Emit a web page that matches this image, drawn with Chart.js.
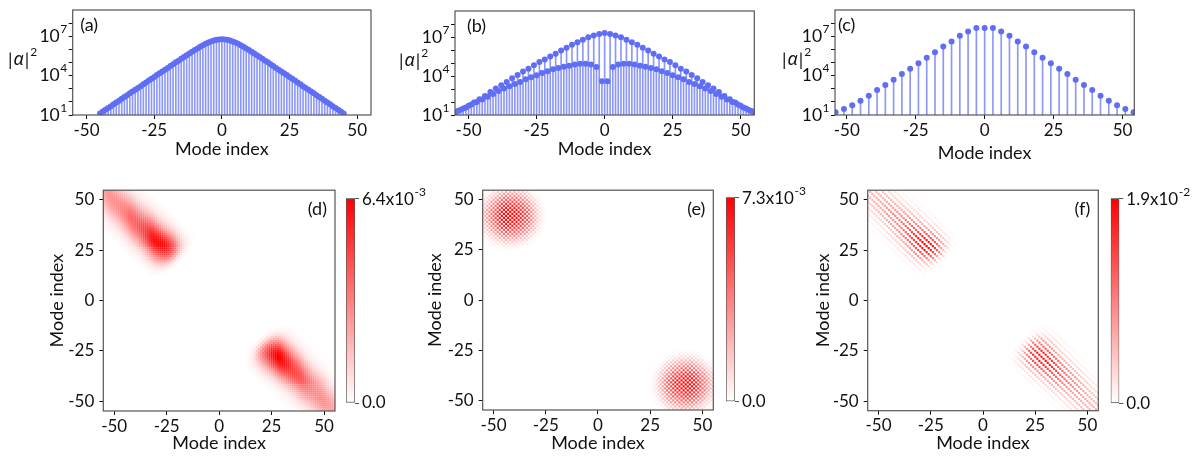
<!DOCTYPE html>
<html>
<head>
<meta charset="utf-8">
<script src="https://cdn.jsdelivr.net/npm/chart.js@4.4.1/dist/chart.umd.min.js"></script>
<style>
  html, body { margin: 0; padding: 0; background: #fff; }
  body { width: 1193px; height: 458px; position: relative; overflow: hidden; }
  canvas { position: absolute; }
</style>
</head>
<body>
<canvas id="ca"></canvas><canvas id="cb"></canvas><canvas id="cc"></canvas>
<canvas id="cd"></canvas><canvas id="ce"></canvas><canvas id="cf"></canvas>
<canvas id="cbd"></canvas><canvas id="cbe"></canvas><canvas id="cbf"></canvas>
<script>
function range(a, b, s) { const r = []; for (let v = a; v <= b; v += s) r.push(v); return r; }

// ---- tick labels ----
const xTicks = [-50, -25, 0, 25, 50];
const logTicks = [1e1, 1e2, 1e3, 1e4, 1e5, 1e6, 1e7, 1e8];
const logLabelPowers = [1, 4, 7];

// ---- (a) log10 |alpha|^2 per mode ----
const aModes = range(-45, 45, 1);
const aLog = [1.12, 1.26, 1.40, 1.53, 1.67, 1.81, 1.95, 2.09, 2.23, 2.37,
  2.51, 2.65, 2.79, 2.92, 3.06, 3.20, 3.34, 3.48, 3.62, 3.76,
  3.90, 4.04, 4.18, 4.31, 4.45, 4.59, 4.73, 4.87, 5.01, 5.14,
  5.28, 5.42, 5.55, 5.69, 5.82, 5.95, 6.07, 6.20, 6.31, 6.42,
  6.52, 6.60, 6.67, 6.73, 6.76, 6.77, 6.76, 6.73, 6.67, 6.60,
  6.52, 6.42, 6.31, 6.20, 6.07, 5.95, 5.82, 5.69, 5.55, 5.42,
  5.28, 5.14, 5.01, 4.87, 4.73, 4.59, 4.45, 4.31, 4.18, 4.04,
  3.90, 3.76, 3.62, 3.48, 3.34, 3.20, 3.06, 2.92, 2.79, 2.65,
  2.51, 2.37, 2.23, 2.09, 1.95, 1.81, 1.67, 1.53, 1.40, 1.26, 1.12];

// ---- (b) even modes (upper) and odd modes (lower) ----
const bEvenModes = range(-54, 54, 2);
const bEvenLog = [1.30, 1.50, 1.72, 1.97, 2.22, 2.47, 2.76, 3.04, 3.29, 3.54,
  3.82, 4.08, 4.34, 4.56, 4.82, 5.07, 5.27, 5.50, 5.71, 5.96,
  6.17, 6.40, 6.60, 6.78, 6.98, 7.11, 7.24, 7.31, 7.24, 7.11,
  6.98, 6.78, 6.60, 6.40, 6.17, 5.96, 5.71, 5.50, 5.27, 5.07,
  4.82, 4.56, 4.34, 4.08, 3.82, 3.54, 3.29, 3.04, 2.76, 2.47,
  2.22, 1.97, 1.72, 1.50, 1.30];
const bOddModes = range(-55, 55, 2);
const bOddLog = [1.18, 1.38, 1.58, 1.80, 2.00, 2.20, 2.40, 2.62, 2.85, 3.04,
  3.21, 3.39, 3.54, 3.75, 3.90, 4.05, 4.23, 4.36, 4.51, 4.61,
  4.72, 4.79, 4.89, 4.95, 4.95, 4.89, 4.69, 3.60, 3.60, 4.69,
  4.89, 4.95, 4.95, 4.89, 4.79, 4.72, 4.61, 4.51, 4.36, 4.23,
  4.05, 3.90, 3.75, 3.54, 3.39, 3.21, 3.04, 2.85, 2.62, 2.40,
  2.20, 2.00, 1.80, 1.58, 1.38, 1.18];

// ---- (c) every third mode ----
const cModes = range(-54, 54, 3);
const cLog = [1.21, 1.46, 1.74, 2.09, 2.47, 2.91, 3.29, 3.69, 4.13, 4.53,
  4.95, 5.37, 5.79, 6.21, 6.60, 7.03, 7.36, 7.62, 7.62, 7.62,
  7.36, 7.03, 6.60, 6.21, 5.79, 5.37, 4.95, 4.53, 4.13, 3.69,
  3.29, 2.91, 2.47, 2.09, 1.74, 1.46, 1.21];

// ---- (d)-(f) correlation maps, relative to colour-bar maximum ----
const heatModes = range(-55, 55, 1);
const cbMax = [6.4e-3, 7.3e-3, 1.9e-2];
// (d) intensity along the anti-diagonal band, by distance u = |j-i|/2
const dAlong = [0, 0, 0, 0, 0, 0, 0, 0, 0, 0, 0, 0, 0, 0, 0, 0, 0, 0, 0, 0.01,
  0.05, 0.16, 0.34, 0.54, 0.71, 0.84, 0.93, 0.98, 1.00, 0.99,
  0.96, 0.93, 0.89, 0.85, 0.81, 0.77, 0.74, 0.71, 0.68, 0.65,
  0.62, 0.60, 0.58, 0.56, 0.54, 0.52, 0.50, 0.48, 0.47, 0.45,
  0.44, 0.43, 0.42, 0.41, 0.40, 0.39];
// falloff across the band, by |i+j|
const dAcross = [1.00, 0.99, 0.96, 0.91, 0.85, 0.78, 0.70, 0.61, 0.53, 0.44,
  0.37, 0.30, 0.24, 0.18, 0.14, 0.11, 0.08, 0.06, 0.04, 0.03, 0.02];
// (e) round blobs with checkerboard, by distance from blob centre
const eCentre = [-42, 42];
const eRadial = [1.00, 0.99, 0.97, 0.94, 0.90, 0.85, 0.79, 0.72, 0.64, 0.56,
  0.47, 0.38, 0.30, 0.22, 0.15, 0.09, 0.05, 0.02];
// (f) striped band (every third anti-diagonal)
const fAlong = [0, 0, 0, 0, 0, 0, 0, 0, 0, 0, 0, 0, 0, 0, 0, 0, 0, 0, 0, 0.01,
  0.05, 0.17, 0.37, 0.57, 0.74, 0.86, 0.94, 0.99, 1.00, 0.98,
  0.94, 0.90, 0.85, 0.80, 0.75, 0.71, 0.67, 0.63, 0.60, 0.57,
  0.54, 0.51, 0.48, 0.46, 0.44, 0.42, 0.40, 0.38, 0.36, 0.35,
  0.34, 0.33, 0.32, 0.31, 0.30, 0.29];
const fAcross = [1.00, 0.99, 0.96, 0.91, 0.85, 0.78, 0.70, 0.61, 0.53, 0.44,
  0.37, 0.30, 0.24, 0.18, 0.14, 0.11, 0.08, 0.06, 0.04, 0.03, 0.02];

// ---- style ----
const FONT = 'Lato, "Open Sans", sans-serif';
const INK = '#111';
const FRAME = '#555';
const DOT = '#5f6ef5';
const STEM = 'rgba(96,112,245,0.72)';
const TICK_FONT = { family: FONT, size: 17 };
const TITLE_FONT = { family: FONT, size: 18 };

Chart.defaults.font.family = FONT;
Chart.defaults.color = INK;
Chart.defaults.animation = false;
Chart.defaults.events = [];
Chart.defaults.plugins.legend.display = false;
Chart.defaults.plugins.tooltip.enabled = false;

const tickGrid = { drawOnChartArea: false, drawTicks: true, tickLength: 4, tickColor: INK, tickWidth: 1, offset: false };

function place(id, box) {
  const cv = document.getElementById(id);
  cv.width = box.w; cv.height = box.h;
  cv.style.left = box.left + 'px'; cv.style.top = box.top + 'px';
  cv.style.width = box.w + 'px'; cv.style.height = box.h + 'px';
  return cv;
}
function padFor(box, area) {
  return { left: 0, top: area.t - box.top, right: box.left + box.w - area.r, bottom: 0 };
}
function red(t) {
  const g = Math.round(255 * (1 - Math.min(1, t)));
  return 'rgb(255,' + g + ',' + g + ')';
}
function supText(ctx, base, sup, x, y, size, align) {
  ctx.font = size + 'px ' + FONT;
  const wb = ctx.measureText(base).width;
  ctx.font = Math.round(size * 0.68) + 'px ' + FONT;
  const ws = ctx.measureText(sup).width;
  const x0 = align === 'right' ? x - wb - ws : x;
  ctx.textAlign = 'left'; ctx.textBaseline = 'middle'; ctx.fillStyle = INK;
  ctx.font = size + 'px ' + FONT;
  ctx.fillText(base, x0, y);
  ctx.font = Math.round(size * 0.68) + 'px ' + FONT;
  ctx.fillText(sup, x0 + wb + 0.5, y - size * 0.42);
}
function frame(ctx, a) {
  ctx.strokeStyle = FRAME; ctx.lineWidth = 1.2;
  ctx.strokeRect(a.left, a.top, a.right - a.left, a.bottom - a.top);
}

// ---- stem plots ----
function stemChart(id, box, area, xr, series, deco) {
  const datasets = [];
  series.forEach(s => datasets.push({
    type: 'bar', grouped: false, barThickness: 1, backgroundColor: STEM, borderWidth: 0, order: 2,
    data: s.modes.map((m, k) => ({ x: m, y: [10, Math.pow(10, s.logs[k])] }))
  }));
  series.forEach(s => datasets.push({
    type: 'scatter', order: 1, pointRadius: 3, pointBackgroundColor: DOT, pointBorderWidth: 0,
    data: s.modes.map((m, k) => ({ x: m, y: Math.pow(10, s.logs[k]) }))
  }));
  return new Chart(place(id, box), {
    type: 'bar',
    data: { datasets },
    options: {
      responsive: false,
      layout: { padding: padFor(box, area) },
      scales: {
        x: {
          type: 'linear', min: -xr, max: xr, offset: false, grid: tickGrid, border: { display: false },
          afterBuildTicks: s => { s.ticks = xTicks.map(v => ({ value: v })); },
          ticks: { font: TICK_FONT, color: INK, padding: 1, maxRotation: 0, autoSkip: false },
          title: { display: true, text: 'Mode index', font: TITLE_FONT, color: INK, padding: { top: 0, bottom: deco.titlePad } },
          afterFit: s => { s.height = box.top + box.h - area.b; }
        },
        y: {
          type: 'logarithmic', min: 10, max: 1e9, grid: tickGrid, border: { display: false },
          afterBuildTicks: s => { s.ticks = logTicks.map(v => ({ value: v })); },
          ticks: { display: false },
          afterFit: s => { s.width = area.l - box.left; }
        }
      }
    },
    plugins: [{
      id: 'stemDeco',
      afterDraw(chart) {
        const { ctx, chartArea: a, scales: { y } } = chart;
        ctx.save();
        frame(ctx, a);
        logLabelPowers.forEach(p => supText(ctx, '10', String(p), a.left - 6, y.getPixelForValue(Math.pow(10, p)), 17.5, 'right'));
        ctx.fillStyle = INK; ctx.textBaseline = 'middle'; ctx.textAlign = 'left';
        ctx.font = '18px ' + FONT;
        ctx.fillText(deco.tag, a.left + deco.tagDx, a.top + 15);
        // |alpha|^2
        let x = deco.labX; const yy = a.top + 50;
        ctx.font = '18px ' + FONT; ctx.fillText('|', x, yy); x += ctx.measureText('|').width + 1;
        ctx.font = 'italic 18px "Noto Sans", "DejaVu Sans", sans-serif'; ctx.fillText('\u03b1', x, yy); x += ctx.measureText('\u03b1').width + 1;
        ctx.font = '18px ' + FONT; ctx.fillText('|', x, yy); x += ctx.measureText('|').width + 1;
        ctx.font = '12px ' + FONT; ctx.fillText('2', x, yy - 8);
        ctx.restore();
      }
    }]
  });
}

// ---- heat maps ----
function bandCells(along, across, step) {
  const out = [];
  heatModes.forEach(i => heatModes.forEach(j => {
    const v = i + j;
    if (v % step !== 0) return;
    const val = (along[Math.round(Math.abs(j - i) / 2)] || 0) * (across[Math.abs(v)] || 0);
    if (val > 0.01) out.push({ x: i, y: j, v: val });
  }));
  return out;
}
function blobCells(radial, c) {
  const out = [];
  heatModes.forEach(i => heatModes.forEach(j => {
    if ((i + j) % 2 !== 0) return;
    const r = Math.round(Math.min(Math.hypot(i - c[0], j - c[1]), Math.hypot(i + c[0], j + c[1])));
    const val = radial[r] || 0;
    if (val > 0.01) out.push({ x: i, y: j, v: val });
  }));
  return out;
}

function heatChart(id, box, area, cells, deco) {
  return new Chart(place(id, box), {
    type: 'scatter',
    data: {
      datasets: [{
        data: cells, pointStyle: 'rect', pointBorderWidth: 0, clip: 0,
        pointBackgroundColor: cells.map(c => red(c.v)),
        pointRadius: ctx => {
          const s = ctx.chart.scales.x;
          return Math.abs(s.getPixelForValue(1) - s.getPixelForValue(0)) / Math.SQRT2 + 0.05;
        }
      }]
    },
    options: {
      responsive: false,
      layout: { padding: padFor(box, area) },
      scales: {
        x: {
          type: 'linear', min: -55.2, max: 55.2, grid: tickGrid, border: { display: false },
          afterBuildTicks: s => { s.ticks = xTicks.map(v => ({ value: v })); },
          ticks: { font: TICK_FONT, color: INK, padding: 1, maxRotation: 0, autoSkip: false },
          title: { display: true, text: 'Mode index', font: TITLE_FONT, color: INK, padding: { top: 0, bottom: deco.xTitlePad } },
          afterFit: s => { s.height = box.top + box.h - area.b; }
        },
        y: {
          type: 'linear', min: -54.8, max: 54.8, grid: tickGrid, border: { display: false },
          afterBuildTicks: s => { s.ticks = xTicks.map(v => ({ value: v })); },
          ticks: { font: TICK_FONT, color: INK, padding: 5 },
          title: { display: true, text: 'Mode index', font: TITLE_FONT, color: INK, padding: { top: deco.yTitlePad, bottom: 0 } },
          afterFit: s => { s.width = area.l - box.left; }
        }
      }
    },
    plugins: [{
      id: 'heatDeco',
      afterDraw(chart) {
        const { ctx, chartArea: a } = chart;
        ctx.save();
        frame(ctx, a);
        ctx.fillStyle = INK; ctx.font = '18px ' + FONT;
        ctx.textAlign = 'right'; ctx.textBaseline = 'middle';
        ctx.fillText(deco.tag, a.right - 8, a.top + 19);
        ctx.restore();
      }
    }]
  });
}

function colorBar(id, box, area, max) {
  const e = Math.floor(Math.log10(max));
  const mant = (max / Math.pow(10, e)).toFixed(1) + 'x10';
  return new Chart(place(id, box), {
    type: 'bar',
    data: {
      labels: [''],
      datasets: [{
        data: [[0, max]], barPercentage: 1, categoryPercentage: 1,
        borderColor: FRAME, borderWidth: 1, borderSkipped: false,
        backgroundColor: ctx => {
          const a = ctx.chart.chartArea;
          if (!a) return '#f00';
          const g = ctx.chart.ctx.createLinearGradient(0, a.bottom, 0, a.top);
          g.addColorStop(0, '#ffffff'); g.addColorStop(1, '#ff0000');
          return g;
        }
      }]
    },
    options: {
      responsive: false,
      layout: { padding: { left: area.l - box.left, top: area.t - box.top, right: box.left + box.w - area.r - 6, bottom: box.top + box.h - area.b } },
      scales: {
        x: { display: false },
        y: {
          position: 'right', min: 0, max: max, grid: { drawOnChartArea: false, drawTicks: true, tickLength: 4, tickColor: FRAME },
          border: { display: false }, ticks: { display: false },
          afterBuildTicks: s => { s.ticks = [{ value: 0 }, { value: max }]; },
          afterFit: s => { s.width = 6; }
        }
      }
    },
    plugins: [{
      id: 'cbDeco',
      afterDraw(chart) {
        const { ctx, chartArea: a, scales: { y } } = chart;
        ctx.save();
        supText(ctx, mant, '-' + Math.abs(e), a.right + 7, y.getPixelForValue(max) + 1, 17, 'left');
        ctx.font = '17px ' + FONT; ctx.textAlign = 'left'; ctx.textBaseline = 'middle'; ctx.fillStyle = INK;
        ctx.fillText('0.0', a.right + 7, y.getPixelForValue(0));
        ctx.restore();
      }
    }]
  });
}

// ---- build ----
stemChart('ca', { left: 0, top: 0, w: 395, h: 170 }, { l: 72.7, t: 10, r: 371, b: 115 }, 55.1,
  [{ modes: aModes, logs: aLog }], { tag: '(a)', tagDx: 7.5, labX: 8, titlePad: 10 });
stemChart('cb', { left: 390, top: 0, w: 390, h: 170 }, { l: 455, t: 11, r: 754.3, b: 115 }, 55,
  [{ modes: bEvenModes, logs: bEvenLog }, { modes: bOddModes, logs: bOddLog }], { tag: '(b)', tagDx: 12, labX: 9, titlePad: 10 });
stemChart('cc', { left: 775, top: 0, w: 418, h: 170 }, { l: 835, t: 10, r: 1134.3, b: 115 }, 54.25,
  [{ modes: cModes, logs: cLog }], { tag: '(c)', tagDx: 3, labX: 7, titlePad: 6 });

heatChart('cd', { left: 0, top: 175, w: 345, h: 283 }, { l: 103.3, t: 190, r: 335, b: 411 },
  bandCells(dAlong, dAcross, 1), { tag: '(d)', yTitlePad: 46, xTitlePad: 4 });
heatChart('ce', { left: 380, top: 175, w: 345, h: 283 }, { l: 482.7, t: 189, r: 713.3, b: 410 },
  blobCells(eRadial, eCentre), { tag: '(e)', yTitlePad: 44, xTitlePad: 4 });
heatChart('cf', { left: 760, top: 175, w: 345, h: 283 }, { l: 867.7, t: 190, r: 1098.3, b: 410.7 },
  bandCells(fAlong, fAcross, 3), { tag: '(f)', yTitlePad: 52, xTitlePad: 4 });

colorBar('cbd', { left: 330, top: 185, w: 110, h: 230 }, { l: 346, t: 198.3, r: 355, b: 403 }, cbMax[0]);
colorBar('cbe', { left: 710, top: 185, w: 110, h: 230 }, { l: 726, t: 197.3, r: 735, b: 401.7 }, cbMax[1]);
colorBar('cbf', { left: 1095, top: 185, w: 98, h: 230 }, { l: 1110.7, t: 198.3, r: 1119.3, b: 403.3 }, cbMax[2]);
</script>
</body>
</html>
